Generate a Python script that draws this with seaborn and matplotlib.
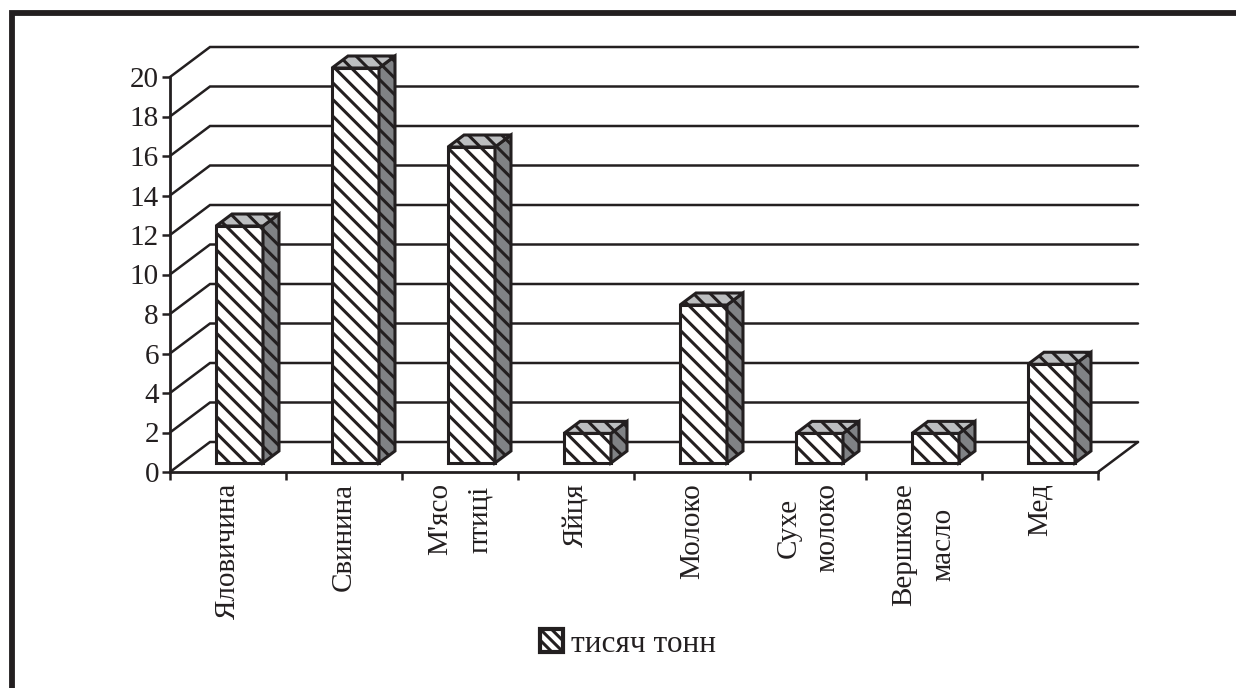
import matplotlib
matplotlib.use("Agg")
from matplotlib import pyplot as plt
from matplotlib.lines import Line2D
from matplotlib.patches import Patch, Polygon
import seaborn as sns

products = ["Яловичина", "Свинина", "М'ясо\nптиці", "Яйця", "Молоко",
            "Сухе\nмолоко", "Вершкове\nмасло", "Мед"]
thousand_tons = [12, 20, 16, 1.5, 8, 1.5, 1.5, 5]
y_ticks = [0, 2, 4, 6, 8, 10, 12, 14, 16, 18, 20]
legend_label = "тисяч тонн"

INK = "#231f20"
SIDE = "#808285"
TOP = "#bcbec0"
W, H = 1236, 688
LEFT, BASE, RIGHT, CEIL = 170, 472, 1138, 47
CAT_PX = 116.0
UNIT_PX = 19.75

sns.set_theme(style="white")
plt.rcParams["font.family"] = ["Liberation Serif", "DejaVu Sans"]
plt.rcParams["hatch.linewidth"] = 2.2
plt.rcParams["hatch.color"] = INK

fig = plt.figure(figsize=(W / 100, H / 100), dpi=100)
ax = fig.add_axes([LEFT / W, 1 - BASE / H, (RIGHT - LEFT) / W, (BASE - CEIL) / H])
ax.patch.set_alpha(0)

sns.barplot(x=products, y=thousand_tons, width=0.405, color="white", saturation=1,
            edgecolor=INK, linewidth=2.2, hatch="\\\\", zorder=3, ax=ax)

x_max = -0.5 + (RIGHT - LEFT) / CAT_PX
y_max = (BASE - CEIL) / UNIT_PX
ax.set_xlim(-0.5, x_max)
ax.set_ylim(0, y_max)

# depth of the back wall and the bars, in data units
wall_x = x_max - 7.5
wall_y = y_max - 20
shift_x = 11.5 / CAT_PX
shift_y = 9 / UNIT_PX
deep_x = 16 / CAT_PX
deep_y = 12 / UNIT_PX

# back wall and floor
for v in y_ticks:
    ax.plot([-0.5, -0.5 + wall_x, x_max], [v, v + wall_y, v + wall_y],
            color=INK, lw=1.8, zorder=1, clip_on=False, solid_joinstyle="miter")
ax.plot([7.5, x_max], [0, wall_y], color=INK, lw=1.8, zorder=1, clip_on=False)

# push the bars back and add side and top faces
for bar in ax.patches[:len(products)]:
    bar.set_x(bar.get_x() + shift_x)
    bar.set_y(shift_y)
    x0, x1 = bar.get_x(), bar.get_x() + bar.get_width()
    y0, y1 = shift_y, shift_y + bar.get_height()
    ax.add_patch(Polygon([(x1, y0), (x1 + deep_x, y0 + deep_y), (x1 + deep_x, y1 + deep_y), (x1, y1)],
                         facecolor=SIDE, edgecolor=INK, linewidth=2.2, hatch="\\\\", zorder=3))
    ax.add_patch(Polygon([(x0, y1), (x0 + deep_x, y1 + deep_y), (x1 + deep_x, y1 + deep_y), (x1, y1)],
                         facecolor=TOP, edgecolor=INK, linewidth=2.2, hatch="\\\\", zorder=3))

for side in ["top", "right"]:
    ax.spines[side].set_visible(False)
for side in ["left", "bottom"]:
    ax.spines[side].set_linewidth(2)
    ax.spines[side].set_color(INK)
ax.spines["left"].set_bounds(0, 20)
ax.spines["bottom"].set_bounds(-0.5, 7.5)

ax.set_yticks(y_ticks)
ax.set_xticks([i - 0.5 for i in range(len(products) + 1)])
ax.set_xticklabels([])
ax.set_xticks(range(len(products)), minor=True)
ax.set_xticklabels(products, minor=True, rotation=90, ha="center", va="top",
                   ma="center", linespacing=1.67, fontsize=21, color=INK)
ax.tick_params(axis="x", which="major", bottom=True, length=6, width=1.8, color=INK)
ax.tick_params(axis="x", which="minor", bottom=False, length=0, pad=8)
ax.tick_params(axis="y", left=True, length=6, width=1.8, color=INK, pad=2,
               labelsize=21, labelcolor=INK)
ax.set_xlabel("")
ax.set_ylabel("")

fig.legend(handles=[Patch(facecolor="white", edgecolor=INK, linewidth=3, hatch="\\\\\\", label=legend_label)],
           loc="center", bbox_to_anchor=(628 / W, 1 - 644 / H), frameon=False, fontsize=22.5,
           labelcolor=INK, handlelength=0.72, handleheight=0.72, handletextpad=0.25,
           borderpad=0, borderaxespad=0)

# outer frame, cut by the page on the right and at the bottom
fig.add_artist(Line2D([11.5 / W, 11.5 / W, 1], [0, 1 - 13 / H, 1 - 13 / H], color=INK,
                      lw=4.2, solid_joinstyle="miter"))

fig.savefig("out.png", dpi=100)
